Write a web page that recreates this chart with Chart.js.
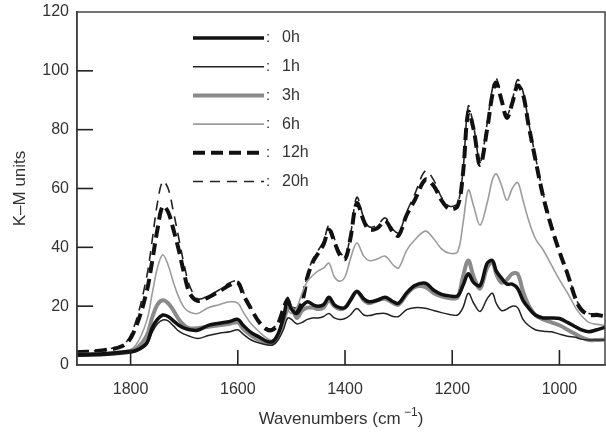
<!DOCTYPE html>
<html>
<head>
<meta charset="utf-8">
<script src="https://cdn.jsdelivr.net/npm/chart.js@4.4.1/dist/chart.umd.min.js"></script>
<style>
  html, body { margin: 0; padding: 0; background: #fff; }
</style>
</head>
<body>
<canvas id="chart" width="606" height="432"></canvas>
<script>
// ── Data ──────────────────────────────────────────────────────────────────
const WAVENUMBERS = [1900, 1850, 1810, 1790, 1770, 1760, 1750, 1740, 1730, 1720, 1710, 1700, 1690, 1675, 1655, 1635, 1615, 1600, 1590, 1575, 1560, 1545, 1535, 1525, 1515, 1507, 1500, 1490, 1480, 1470, 1460, 1450, 1440, 1430, 1420, 1410, 1400, 1390, 1378, 1365, 1355, 1340, 1325, 1310, 1300, 1285, 1270, 1250, 1235, 1220, 1205, 1190, 1180, 1170, 1160, 1148, 1135, 1125, 1118, 1108, 1098, 1088, 1078, 1068, 1058, 1045, 1030, 1015, 1000, 985, 970, 960, 945, 930, 915];

const KM_0H = [3.5, 3.8, 4.5, 5, 7.5, 12.5, 15.5, 17, 16.5, 15, 13.5, 12.5, 12, 11.8, 13.5, 14.2, 14.8, 15.5, 13.5, 11, 9.5, 8, 8, 10.5, 16, 22, 19, 17.5, 20, 21.5, 20.5, 20, 20.5, 23, 20.5, 19.5, 19.5, 22, 25, 22.5, 21.5, 22, 23, 21.5, 21, 24.5, 27, 27.8, 25.5, 24, 23.5, 23.5, 27, 31, 28, 27, 34.5, 35.5, 32, 29.5, 27.5, 27.5, 26, 22, 19.5, 17, 16, 16, 15.8, 14.5, 13, 12, 11.3, 12, 12.8];
const KM_1H = [3, 3.2, 3.8, 4.5, 6.8, 11, 14, 15.3, 15, 13.3, 11.5, 10.5, 9.8, 9, 10, 10.8, 11.3, 12, 10.5, 8.5, 7.5, 6.8, 6.8, 8.5, 12, 16, 15.5, 14, 14.5, 15.5, 16, 16, 16.5, 17.5, 16, 15.5, 15.8, 17, 19.2, 17, 16.8, 17.4, 17.5, 16.5, 16.5, 18.8, 19.5, 19.3, 18.5, 17.8, 17.2, 17, 19.5, 24.4, 21, 18.2, 22.5, 24.4, 21, 18.5, 19, 20, 19.5, 15.5, 13.5, 12, 11.5, 11.3, 10.5, 9.8, 9.4, 8.8, 8.5, 8.5, 8.5];
const KM_3H = [3.5, 3.8, 4.5, 5.5, 10, 16, 20.5, 22, 21, 18.5, 15.5, 13.5, 12.5, 12.5, 13, 13.5, 14, 14.5, 12.3, 10, 8.5, 7.5, 7.3, 9.5, 15, 19, 19.5, 16, 18.5, 19.5, 19.5, 19, 19.5, 22, 20, 19, 19.5, 22, 25, 22, 21, 22, 22.5, 21, 20.5, 24, 26.5, 26.5, 24.5, 23.3, 22.7, 23, 30, 35.5, 30, 26, 33, 35, 31, 28, 29, 31, 31, 25, 20.5, 17, 15.5, 14.5, 13.5, 12, 10.5, 9.5, 8.5, 8.5, 8.7];
const KM_6H = [3, 3.5, 4.5, 6.8, 15, 24, 33, 37.5, 34, 28, 23, 19.5, 18, 17.5, 19.5, 20.5, 21.5, 21, 18, 14, 11.3, 9, 8.5, 11, 16, 18.5, 17.5, 19.5, 24.5, 28.5, 30.5, 32, 33, 34.6, 30, 28.5, 30, 36, 41.5, 37, 35.5, 36, 37, 34, 33, 39, 42.5, 45.5, 43, 39.5, 38, 38.5, 48, 59.5, 54, 47.5, 55, 63, 65, 61, 56, 60, 62, 56, 49.5, 43, 39, 34, 29, 24.5, 19.5, 17, 14.5, 13.8, 13.5];
const KM_12H = [4.3, 5, 7, 13, 25, 35, 46, 54, 52, 46, 39, 31, 24.5, 21.8, 23, 25, 27.2, 28, 24, 19, 14.5, 12, 12, 14, 19, 22, 19, 18.5, 21.5, 30, 35, 38, 41, 46, 42, 37.5, 36, 43, 55, 49, 46, 46.5, 49, 45, 44, 51, 56, 63, 61, 56, 53, 54, 65, 86, 80, 68, 80, 92, 96, 90, 84, 89, 95, 92, 82, 70, 57, 47, 38.5, 31, 22.5, 19, 17, 17, 16.5];
const KM_20H = [4.5, 5.2, 7.5, 15, 30, 42, 55, 62.5, 60, 52, 43, 34, 27, 22.5, 23.5, 25.5, 28, 28.5, 25, 19.5, 15, 12.5, 12.5, 14.5, 20, 23, 20, 19.5, 22.5, 31, 36, 39, 42, 47.5, 43, 38.5, 37, 44, 57, 50, 47, 47.5, 50, 46, 45, 52, 58, 66, 63, 57, 54, 55, 66, 88, 81, 69, 82, 94, 97.5, 91, 85, 90, 97, 93, 83, 71, 58, 48, 39, 31.5, 23, 19.5, 17.5, 17.5, 17];

const SERIES_LABELS = ['0h', '1h', '3h', '6h', '12h', '20h'];
const X_TICKS = [1800, 1600, 1400, 1200, 1000];
const Y_TICKS = [0, 20, 40, 60, 80, 100, 120];

const FONT = '"Liberation Sans", Arial, Helvetica, sans-serif';
const INK = '#333';

const toPoints = ys => WAVENUMBERS.map((w, i) => ({ x: w, y: ys[i] }));

// Plugin : cadre + graduations tournées vers l'intérieur
const frameTicks = {
  id: 'frameTicks',
  afterDraw(chart) {
    const ctx = chart.ctx;
    const a = chart.chartArea;
    const xs = chart.scales.x;
    const ys = chart.scales.y;
    ctx.save();
    ctx.setLineDash([]);
    ctx.strokeStyle = '#444';
    ctx.lineWidth = 1.5;
    ctx.strokeRect(a.left, a.top, a.right - a.left, a.bottom - a.top);

    ctx.strokeStyle = '#222';
    ctx.lineWidth = 1.6;
    for (const v of Y_TICKS.slice(1, -1)) {
      const py = ys.getPixelForValue(v);
      ctx.beginPath();
      ctx.moveTo(a.left, py);
      ctx.lineTo(a.left + 16, py);
      ctx.stroke();
    }
    for (const v of X_TICKS) {
      const px = xs.getPixelForValue(v);
      ctx.beginPath();
      ctx.moveTo(px, a.bottom);
      ctx.lineTo(px, a.bottom - 15);
      ctx.stroke();
    }

    // titre de l'axe x avec exposant
    const cx = (a.left + a.right) / 2;
    const base = 424;
    ctx.fillStyle = INK;
    ctx.textBaseline = 'alphabetic';
    ctx.textAlign = 'left';
    ctx.font = '17px ' + FONT;
    const main = 'Wavenumbers (cm';
    const wMain = ctx.measureText(main).width;
    const wClose = ctx.measureText(')').width;
    ctx.font = '12px ' + FONT;
    const sup = ' \u22121';
    const wSup = ctx.measureText(sup).width;
    let x = cx - (wMain + wSup + wClose) / 2;
    ctx.font = '17px ' + FONT;
    ctx.fillText(main, x, base);
    x += wMain;
    ctx.font = '12px ' + FONT;
    ctx.fillText(sup, x, base - 8);
    x += wSup;
    ctx.font = '17px ' + FONT;
    ctx.fillText(')', x, base);
    ctx.restore();
  },
};

// Plugin : légende façon figure (trait, deux-points, libellé)
const sideLegend = {
  id: 'sideLegend',
  afterDraw(chart) {
    const ctx = chart.ctx;
    const x0 = 193, x1 = 264, top = 38, step = 28.7;
    ctx.save();
    chart.data.datasets.forEach((ds, i) => {
      const y = top + i * step;
      ctx.beginPath();
      ctx.strokeStyle = ds.borderColor;
      ctx.lineWidth = ds.borderWidth;
      ctx.setLineDash(ds.borderDash || []);
      ctx.moveTo(x0, y);
      ctx.lineTo(x1, y);
      ctx.stroke();
      ctx.setLineDash([]);
      ctx.fillStyle = INK;
      ctx.font = '15px ' + FONT;
      ctx.textBaseline = 'middle';
      ctx.textAlign = 'left';
      ctx.fillText(':', 266, y);
      ctx.font = '16px ' + FONT;
      ctx.fillText(ds.label, 282, y);
    });
    ctx.restore();
  },
};

const styles = [
  { borderColor: '#111', borderWidth: 3.5 },
  { borderColor: '#222', borderWidth: 1.5 },
  { borderColor: '#8a8a8a', borderWidth: 4 },
  { borderColor: '#9c9c9c', borderWidth: 1.6 },
  { borderColor: '#111', borderWidth: 4, borderDash: [12, 6] },
  { borderColor: '#222', borderWidth: 1.6, borderDash: [10, 7] },
];
const seriesValues = [KM_0H, KM_1H, KM_3H, KM_6H, KM_12H, KM_20H];

new Chart(document.getElementById('chart'), {
  type: 'line',
  plugins: [frameTicks, sideLegend],
  data: {
    datasets: SERIES_LABELS.map((label, i) => ({
      label,
      data: toPoints(seriesValues[i]),
      pointRadius: 0,
      tension: 0.35,
      fill: false,
      ...styles[i],
    })),
  },
  options: {
    responsive: false,
    animation: false,
    devicePixelRatio: 1,
    layout: { padding: { top: 12, right: 1, left: 0, bottom: 0 } },
    plugins: {
      legend: { display: false },
      tooltip: { enabled: false },
    },
    scales: {
      x: {
        type: 'linear',
        reverse: true,
        min: 915,
        max: 1900,
        afterBuildTicks: s => { s.ticks = X_TICKS.map(v => ({ value: v })); },
        afterFit: s => { s.height = 67; s.paddingLeft = 0; s.paddingRight = 0; },
        grid: { display: false, drawTicks: false },
        border: { display: true, color: '#333', width: 1.5 },
        ticks: { padding: 15, color: INK, font: { family: FONT, size: 16 }, maxRotation: 0, callback: v => String(v) },
      },
      y: {
        type: 'linear',
        min: 0,
        max: 120,
        afterBuildTicks: s => { s.ticks = Y_TICKS.map(v => ({ value: v })); },
        afterFit: s => { s.width = 77; s.paddingTop = 0; s.paddingBottom = 0; },
        grid: { display: false, drawTicks: false },
        border: { display: true, color: '#333', width: 1.5 },
        ticks: { padding: 8, color: INK, font: { family: FONT, size: 16 }, callback: v => String(v) },
        title: {
          display: true,
          text: 'K\u2013M units',
          color: INK,
          font: { family: FONT, size: 17 },
          padding: { top: 10, bottom: 2 },
        },
      },
    },
  },
});
</script>
</body>
</html>
